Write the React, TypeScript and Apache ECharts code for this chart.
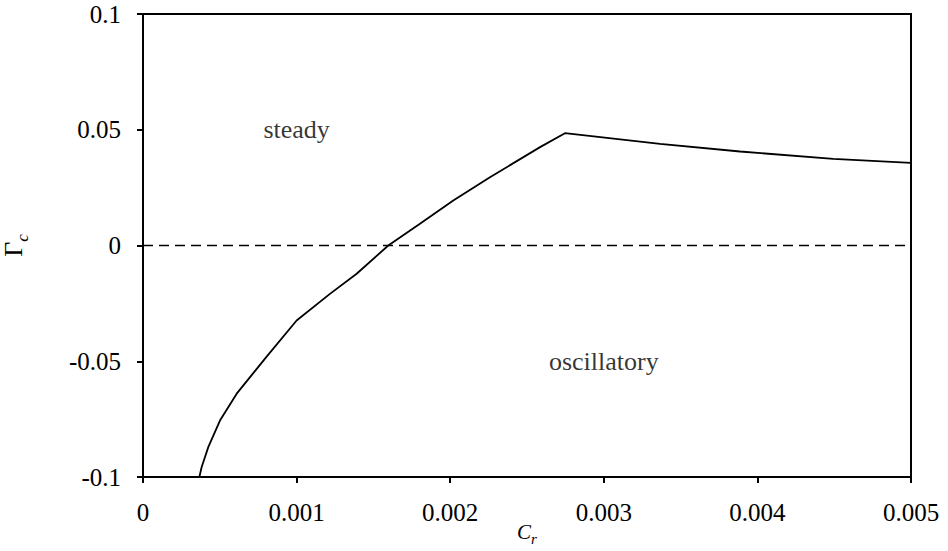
import React, { useEffect, useRef } from "react";
import * as echarts from "echarts";

const crValues = [0.000367, 0.000382, 0.000425, 0.000501, 0.00061, 0.000805, 0.001, 0.001217, 0.001391, 0.001597, 0.001803, 0.00202, 0.002259, 0.002585, 0.002747, 0.003366, 0.003887, 0.004494, 0.005];
const gammaValues = [-0.1, -0.0957, -0.0871, -0.0756, -0.064, -0.048, -0.0324, -0.0209, -0.0122, 0, 0.0094, 0.0194, 0.0295, 0.0425, 0.0485, 0.0439, 0.0406, 0.0374, 0.0357];
const zeroLineX = [0, 0.005];
const zeroLineY = [0, 0];
const regionLabels = ["steady", "oscillatory"];
const regionX = [0.001, 0.003];
const regionY = [0.05, -0.05];

const FONT = "'Liberation Serif', 'Times New Roman', serif";

export default function App() {
  const ref = useRef<HTMLDivElement>(null);
  useEffect(() => {
    if (!ref.current) return;
    const chart = echarts.init(ref.current, undefined, { renderer: "svg" });
    chart.setOption({
      animation: false,
      backgroundColor: "#fff",
      grid: {
        left: 143, right: 37, top: 14, bottom: 74,
        show: true, borderColor: "#000", borderWidth: 2,
        containLabel: false, outerBoundsMode: "none",
      },
      xAxis: {
        type: "value",
        min: 0,
        max: 0.005,
        interval: 0.001,
        name: "{i|C}{s|r}",
        nameLocation: "middle",
        nameGap: 44,
        nameMoveOverlap: false,
        nameTextStyle: {
          rich: {
            i: { fontFamily: FONT, fontStyle: "italic", fontSize: 21, color: "#000", padding: [0, 0, 4, 0] },
            s: { fontFamily: FONT, fontStyle: "italic", fontSize: 15, color: "#000", verticalAlign: "bottom" },
          },
        },
        axisLine: { show: true, onZero: false, lineStyle: { color: "#000", width: 2 } },
        axisTick: { show: true, inside: false, length: 6, lineStyle: { color: "#000", width: 2 } },
        axisLabel: { margin: 23, fontFamily: FONT, fontSize: 25, color: "#000" },
        splitLine: { show: false },
      },
      yAxis: {
        type: "value",
        min: -0.1,
        max: 0.1,
        interval: 0.05,
        name: "{i|Γ}{s|c}",
        nameLocation: "middle",
        nameGap: 112,
        nameTextStyle: {
          rich: {
            i: { fontFamily: FONT, fontSize: 26, color: "#000", padding: [0, 0, 5, 0] },
            s: { fontFamily: FONT, fontStyle: "italic", fontSize: 17, color: "#000", verticalAlign: "bottom" },
          },
        },
        axisLine: { show: true, onZero: false, lineStyle: { color: "#000", width: 2 } },
        axisTick: { show: true, inside: false, length: 6, lineStyle: { color: "#000", width: 2 } },
        axisLabel: { margin: 22, fontFamily: FONT, fontSize: 25, color: "#000" },
        splitLine: { show: false },
      },
      series: [
        {
          type: "line",
          data: zeroLineX.map((x, i) => [x, zeroLineY[i]]),
          showSymbol: false,
          symbol: "none",
          lineStyle: { color: "#000", width: 1.6, type: [10, 6] },
          silent: true,
        },
        {
          type: "line",
          data: crValues.map((x, i) => [x, gammaValues[i]]),
          showSymbol: false,
          symbol: "none",
          lineStyle: { color: "#000", width: 1.8 },
          silent: true,
        },
        {
          type: "scatter",
          data: regionLabels.map((t, i) => ({ value: [regionX[i], regionY[i]], name: t })),
          symbolSize: 1,
          itemStyle: { color: "rgba(0,0,0,0)" },
          label: {
            show: true,
            position: "inside",
            formatter: (p: any) => p.name,
            fontFamily: FONT,
            fontSize: 26,
            color: "#000",
            align: "center",
            verticalAlign: "middle",
          },
          silent: true,
        },
      ],
    });
    return () => chart.dispose();
  }, []);
  return <div ref={ref} style={{ position: "fixed", left: 0, top: 0, width: 948, height: 551 }} />;
}
